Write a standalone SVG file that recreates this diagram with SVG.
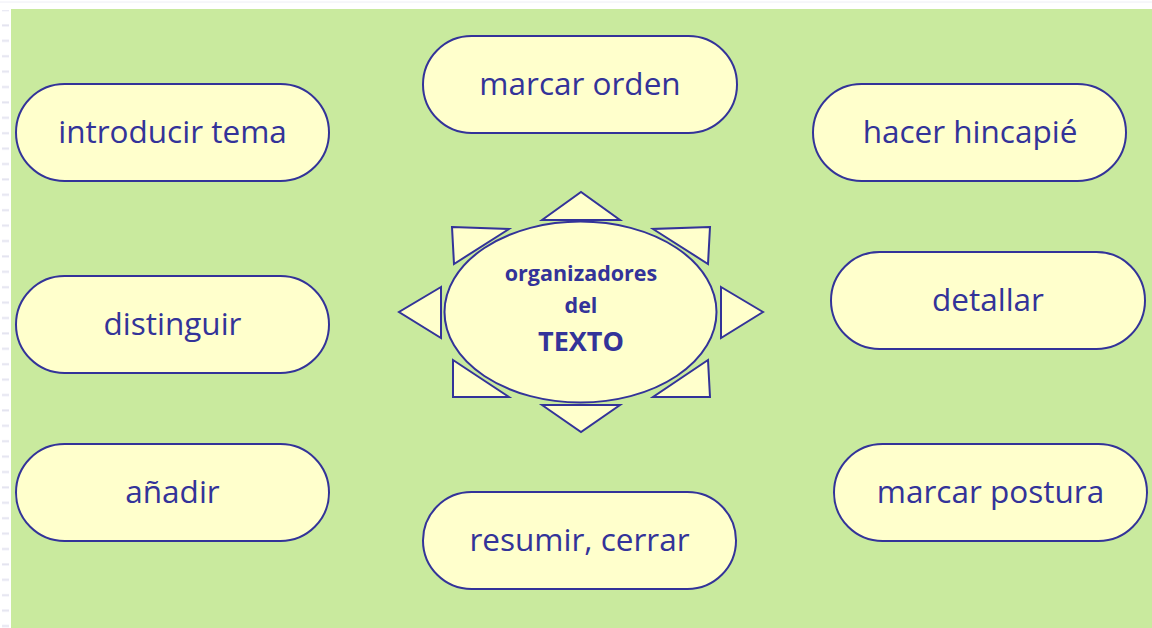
<svg xmlns="http://www.w3.org/2000/svg" width="1152" height="628" viewBox="0 0 1152 628">
<defs>
<style>
.pill{fill:#FFFFCC;stroke:#333399;stroke-width:2}
.ray{fill:#FFFFCC;stroke:#333399;stroke-width:2;stroke-linejoin:miter}
.lbl{font-family:"Open Sans","DejaVu Sans",sans-serif;font-size:31.5px;fill:#333399;text-anchor:middle}
.ctr{font-family:"Open Sans","DejaVu Sans",sans-serif;font-weight:bold;fill:#333399;text-anchor:middle}
</style>
<pattern id="dash" x="0" y="0" width="12" height="15.4" patternUnits="userSpaceOnUse">
<rect x="2" y="9" width="7" height="2" fill="#E4E4F0"/>
</pattern>
</defs>
<rect x="0" y="0" width="1152" height="628" fill="#FFFFFF"/>
<rect x="0" y="10" width="11" height="618" fill="url(#dash)"/>
<line x1="0" y1="2" x2="1152" y2="2" stroke="#EEEEF6" stroke-width="1"/>
<rect x="11" y="9" width="1141" height="619" fill="#C9EA9E"/>

<g id="center">
<polygon class="ray" points="542,220 581,192 620,220"/>
<polygon class="ray" points="542,405 581,432 620,405"/>
<polygon class="ray" points="441,287 399,312 441,338"/>
<polygon class="ray" points="721,287 763,312 721,338"/>
<polygon class="ray" points="452,227 509,229 454,264"/>
<polygon class="ray" points="710,227 653,229 708,264"/>
<polygon class="ray" points="453,360 453,397 509,397"/>
<polygon class="ray" points="708,360 710,397 653,397"/>
<ellipse cx="580.5" cy="312" rx="136" ry="90.5" fill="#FFFFCC" stroke="#333399" stroke-width="2"/>
<text class="ctr" x="581" y="281" font-size="21.5">organizadores</text>
<text class="ctr" x="581" y="313" font-size="21.5">del</text>
<text class="ctr" x="581" y="351" font-size="27">TEXTO</text>
</g>

<g id="n-introducir"><rect class="pill" x="16" y="84" width="313" height="97" rx="48.5"/><text class="lbl" x="172.5" y="143">introducir tema</text></g>
<g id="n-marcar-orden"><rect class="pill" x="423" y="36" width="314" height="97" rx="48.5"/><text class="lbl" x="580" y="95">marcar orden</text></g>
<g id="n-hincapie"><rect class="pill" x="813" y="84" width="313" height="97" rx="48.5"/><text class="lbl" x="970" y="143">hacer hincapié</text></g>
<g id="n-distinguir"><rect class="pill" x="16" y="276" width="313" height="97" rx="48.5"/><text class="lbl" x="172.5" y="335">distinguir</text></g>
<g id="n-detallar"><rect class="pill" x="831" y="252" width="314" height="97" rx="48.5"/><text class="lbl" x="988" y="311">detallar</text></g>
<g id="n-anadir"><rect class="pill" x="16" y="444" width="313" height="97" rx="48.5"/><text class="lbl" x="172.5" y="503">añadir</text></g>
<g id="n-resumir"><rect class="pill" x="423" y="492" width="313" height="97" rx="48.5"/><text class="lbl" x="579.5" y="551">resumir, cerrar</text></g>
<g id="n-postura"><rect class="pill" x="834" y="444" width="313" height="97" rx="48.5"/><text class="lbl" x="990.5" y="503">marcar postura</text></g>
<g id="connectors"></g>
</svg>
